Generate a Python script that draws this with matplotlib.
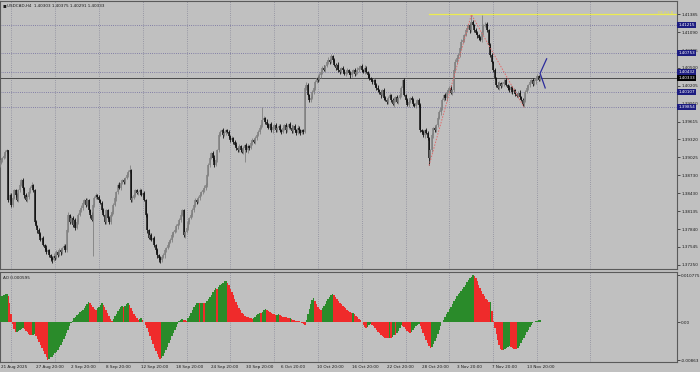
import numpy as np
import matplotlib
matplotlib.use("Agg")
import matplotlib.pyplot as plt
import matplotlib.transforms as mtransforms

plt.rcParams['font.family'] = ['DejaVu Sans']

symbol = "USDCAD,H4"
first_open = 1.3890

# closes of the H4 bars (open = previous close)
closes = [
    1.3893, 1.3898, 1.3901, 1.3905, 1.3911, 1.3914, 1.3832, 1.3840, 1.3824, 1.3835,
    1.3848, 1.3840, 1.3832, 1.3848, 1.3857, 1.3865, 1.3852, 1.3840, 1.3832, 1.3837,
    1.3845, 1.3852, 1.3857, 1.3848, 1.3796, 1.3789, 1.3782, 1.3776, 1.3766, 1.3769,
    1.3758, 1.3753, 1.3746, 1.3749, 1.3741, 1.3736, 1.3733, 1.3740, 1.3736, 1.3746,
    1.3741, 1.3749, 1.3746, 1.3753, 1.3756, 1.3749, 1.3782, 1.3807, 1.3796, 1.3802,
    1.3791, 1.3799, 1.3786, 1.3796, 1.3807, 1.3815, 1.3819, 1.3827, 1.3832, 1.3824,
    1.3832, 1.3815, 1.3807, 1.3799, 1.3824, 1.3835, 1.3840, 1.3837, 1.3832, 1.3827,
    1.3815, 1.3807, 1.3796, 1.3815, 1.3802, 1.3796, 1.3807, 1.3812, 1.3824, 1.3835,
    1.3845, 1.3857, 1.3852, 1.3860, 1.3865, 1.3862, 1.3868, 1.3873, 1.3878, 1.3881,
    1.3832, 1.3835, 1.3840, 1.3848, 1.3844, 1.3845, 1.3848, 1.3840, 1.3844, 1.3832,
    1.3807, 1.3782, 1.3769, 1.3774, 1.3766, 1.3769, 1.3758, 1.3749, 1.3741, 1.3736,
    1.3733, 1.3738, 1.3741, 1.3749, 1.3753, 1.3758, 1.3763, 1.3766, 1.3774, 1.3779,
    1.3782, 1.3789, 1.3792, 1.3799, 1.3807, 1.3815, 1.3774, 1.3779, 1.3786, 1.3796,
    1.3802, 1.3807, 1.3815, 1.3824, 1.3832, 1.3829, 1.3835, 1.3840, 1.3845, 1.3848,
    1.3852, 1.3857, 1.3873, 1.3890, 1.3901, 1.3910, 1.3901, 1.3890, 1.3898, 1.3914,
    1.3939, 1.3944, 1.3947, 1.3939, 1.3943, 1.3947, 1.3944, 1.3938, 1.3931, 1.3934,
    1.3928, 1.3923, 1.3918, 1.3914, 1.3921, 1.3914, 1.3911, 1.3918, 1.3923, 1.3914,
    1.3921, 1.3918, 1.3926, 1.3931, 1.3928, 1.3934, 1.3939, 1.3944, 1.3951, 1.3956,
    1.3964, 1.3967, 1.3961, 1.3956, 1.3951, 1.3957, 1.3947, 1.3952, 1.3956, 1.3947,
    1.3951, 1.3954, 1.3947, 1.3944, 1.3951, 1.3956, 1.3947, 1.3952, 1.3957, 1.3951,
    1.3946, 1.3954, 1.3947, 1.3943, 1.3951, 1.3947, 1.3943, 1.3947, 1.3944, 1.4017,
    1.4022, 1.4005, 1.3997, 1.4000, 1.4010, 1.4017, 1.4027, 1.4033, 1.4030, 1.4038,
    1.4043, 1.4050, 1.4047, 1.4053, 1.4060, 1.4063, 1.4060, 1.4070, 1.4063, 1.4055,
    1.4050, 1.4055, 1.4047, 1.4043, 1.4050, 1.4047, 1.4040, 1.4043, 1.4047, 1.4042,
    1.4038, 1.4043, 1.4047, 1.4040, 1.4043, 1.4047, 1.4050, 1.4053, 1.4047, 1.4043,
    1.4050, 1.4043, 1.4038, 1.4033, 1.4030, 1.4027, 1.4030, 1.4022, 1.4017, 1.4013,
    1.4010, 1.4005, 1.4013, 1.4000, 1.3997, 1.3994, 1.4000, 1.4005, 1.3997, 1.3990,
    1.3997, 1.4002, 1.3994, 1.4000, 1.4005, 1.4017, 1.4030, 1.4005, 1.3997, 1.3989,
    1.3994, 1.4000, 1.3997, 1.3990, 1.3987, 1.3992, 1.3997, 1.3989, 1.3947, 1.3944,
    1.3939, 1.3947, 1.3943, 1.3934, 1.3901, 1.3914, 1.3939, 1.3951, 1.3947, 1.3956,
    1.3967, 1.3977, 1.3984, 1.3997, 1.4005, 1.4000, 1.4010, 1.4013, 1.4017, 1.4009,
    1.4013, 1.4047, 1.4060, 1.4066, 1.4071, 1.4083, 1.4093, 1.4096, 1.4104, 1.4112,
    1.4116, 1.4121, 1.4112, 1.4126, 1.4121, 1.4112, 1.4108, 1.4104, 1.4099, 1.4096,
    1.4109, 1.4119, 1.4121, 1.4122, 1.4112, 1.4088, 1.4071, 1.4060, 1.4047, 1.4033,
    1.4022, 1.4017, 1.4025, 1.4020, 1.4023, 1.4027, 1.4030, 1.4022, 1.4017, 1.4013,
    1.4018, 1.4010, 1.4013, 1.4007, 1.4004, 1.4009, 1.4002, 1.3997, 1.3990, 1.3997,
    1.4010, 1.4017, 1.4022, 1.4027, 1.4030, 1.4023, 1.4028, 1.4033, 1.4037, 1.40303,
    1.40333,
]

# wick lengths in pips above / below the body
upper_wick = [
    2, 3, 2, 4, 3, 2, 1, 3, 4, 2,  3, 2, 4, 3, 5, 2, 3, 2, 3, 4,
    2, 3, 4, 2, 2, 3, 2, 4, 3, 2,  3, 2, 4, 2, 3, 2, 3, 4, 2, 3,
    2, 4, 3, 2, 3, 4, 3, 5, 2, 3,  4, 2, 3, 5, 3, 2, 4, 3, 2, 3,
    4, 2, 3, 5, 2, 3, 4, 2, 3, 2,  3, 4, 2, 3, 2, 4, 3, 2, 3, 4,
    2, 3, 5, 3, 2, 3, 2, 4, 3, 8,  2, 3, 4, 2, 3, 2, 4, 3, 2, 3,
    2, 3, 2, 4, 3, 2, 3, 2, 4, 2,  3, 2, 4, 3, 2, 3, 2, 4, 3, 2,
    3, 4, 2, 3, 5, 2, 3, 2, 4, 3,  2, 3, 4, 2, 3, 2, 4, 3, 2, 3,
    4, 3, 2, 3, 4, 2, 3, 5, 2, 3,  4, 3, 2, 4, 3, 2, 3, 4, 2, 3,
    2, 3, 4, 2, 3, 2, 4, 3, 2, 3,  3, 2, 4, 3, 2, 3, 2, 4, 3, 2,
    21, 3, 2, 4, 3, 2, 4, 3, 2, 3, 2, 3, 4, 2, 3, 2, 3, 4, 2, 3,
    4, 2, 3, 2, 4, 3, 2, 3, 2, 3,  4, 3, 2, 3, 4, 2, 3, 2, 4, 3,
    2, 3, 4, 2, 3, 5, 2, 3, 2, 4,  3, 2, 4, 3, 2, 3, 2, 4, 3, 2,
    3, 4, 2, 3, 2, 4, 3, 2, 3, 2,  4, 3, 2, 3, 2, 4, 3, 2, 3, 4,
    2, 3, 2, 4, 3, 2, 3, 4, 2, 3,  4, 2, 3, 2, 4, 3, 2, 3, 2, 4,
    3, 2, 4, 3, 2, 3, 2, 4, 3, 2,  3, 2, 4, 3, 2, 3, 4, 2, 3, 2,
    4, 3, 2, 3, 2, 4, 3, 2, 3, 4,  2, 3, 4, 2, 3, 2, 4, 3, 2, 3,
    4, 2, 3, 12, 3, 2, 4, 3, 2, 3, 29, 3, 4, 2, 3, 2, 3, 4, 2, 3,
    2, 4, 3, 2, 3, 4, 2, 3, 2, 4,  3, 2, 4, 3, 2, 3, 4, 2, 3, 2,
    3, 4, 2, 3, 2, 4, 3, 2, 3, 2,  4.2,
]
lower_wick = [
    3, 2, 3, 2, 4, 2, 3, 2, 3, 4,  2, 3, 2, 4, 3, 2, 3, 4, 2, 3,
    4, 2, 3, 2, 3, 2, 4, 3, 2, 3,  2, 4, 3, 2, 3, 4, 5, 2, 3, 2,
    3, 2, 4, 3, 2, 3, 2, 3, 4, 2,  3, 2, 4, 2, 3, 2, 3, 4, 2, 3,
    2, 3, 4, 2, 60, 3, 2, 4, 3, 2, 3, 2, 4, 3, 2, 3, 4, 2, 3, 2,
    4, 3, 2, 3, 2, 4, 3, 2, 3, 2,  3, 4, 2, 3, 2, 3, 4, 2, 3, 2,
    3, 4, 2, 3, 2, 4, 3, 5, 4, 6,  5, 3, 2, 4, 3, 2, 3, 2, 4, 3,
    2, 3, 4, 2, 3, 2, 3, 4, 2, 3,  4, 2, 3, 2, 3, 4, 2, 3, 2, 3,
    2, 3, 4, 2, 3, 2, 4, 3, 2, 3,  3, 2, 3, 4, 2, 3, 2, 4, 3, 2,
    3, 2, 4, 3, 2, 3, 2, 3, 23, 2, 4, 3, 2, 3, 2, 4, 3, 2, 3, 2,
    3, 2, 4, 3, 2, 3, 2, 4, 3, 2,  3, 4, 2, 3, 2, 3, 4, 2, 3, 2,
    4, 3, 2, 3, 2, 4, 3, 2, 3, 2,  3, 2, 4, 3, 2, 3, 4, 2, 3, 2,
    4, 3, 2, 3, 2, 4, 3, 2, 3, 2,  3, 2, 4, 3, 2, 3, 2, 4, 3, 2,
    4, 3, 2, 3, 2, 3, 4, 2, 3, 2,  3, 2, 4, 3, 2, 3, 2, 4, 3, 2,
    3, 4, 2, 3, 2, 4, 3, 2, 3, 2,  4, 3, 2, 3, 2, 3, 4, 2, 3, 2,
    3, 2, 4, 3, 2, 3, 2, 4, 3, 2,  3, 4, 2, 3, 12, 3, 2, 4, 3, 2,
    3, 2, 4, 3, 2, 3, 4, 2, 3, 2,  4, 3, 2, 3, 2, 3, 4, 2, 3, 2,
    3, 2, 4, 3, 2, 3, 2, 4, 3, 2,  3, 4, 2, 3, 2, 4, 3, 2, 3, 2,
    3, 2, 4, 3, 2, 3, 4, 2, 3, 2,  4, 3, 2, 3, 2, 3, 4, 2, 3, 5,
    3, 2, 4, 3, 2, 3, 2, 4, 3, 2,  1.2,
]

# Awesome Oscillator, in thousandths
ao_milli = [
    5.7, 5.9, 6.1, 6.3, 6.4, 6.5, 6.0, 4.3, 2.0, -0.3,
    -1.5, -2.3, -2.2, -2.0, -1.8, -1.5, -1.3, -1.5, -1.9, -2.3,
    -2.6, -2.9, -3.0, -2.8, -2.6, -3.1, -3.7, -4.4, -5.1, -5.8,
    -6.5, -7.2, -7.9, -8.63, -8.3, -8.0, -7.8, -7.5, -7.1, -6.7,
    -6.2, -5.7, -5.1, -4.5, -3.9, -3.2, -2.5, -1.7, -0.9, -0.2,
    0.4, 0.9, 1.3, 1.7, 2.0, 2.3, 2.6, 2.9, 3.3, 3.7,
    4.2, 4.6, 4.3, 3.9, 3.5, 3.1, 2.8, 3.2, 3.6, 4.0,
    4.4, 4.0, 3.4, 2.8, 2.1, 1.4, 0.8, 0.4, 0.8, 1.4,
    2.0, 2.6, 3.1, 3.5, 3.7, 3.5, 3.8, 4.1, 4.4, 4.0,
    3.3, 2.6, 2.0, 1.4, 0.9, 0.5, 0.8, 1.0, 0.6, 0.1,
    -0.6, -1.4, -2.3, -3.2, -4.1, -5.0, -5.8, -6.6, -7.3, -7.9,
    -8.4, -8.1, -7.6, -7.0, -6.3, -5.6, -4.8, -4.0, -3.2, -2.4,
    -1.7, -1.0, -0.4, 0.2, 0.5, 0.7, 0.6, 0.5, 0.4, 0.9,
    1.5, 2.1, 2.8, 3.4, 3.9, 4.3, 4.4, 4.3, 4.4, 4.5,
    4.4, 4.5, 4.8, 5.2, 5.7, 6.2, 6.8, 7.3, 7.8, 7.7,
    8.0, 8.4, 8.7, 9.0, 9.3, 9.4, 9.0, 8.4, 7.7, 7.0,
    6.2, 5.4, 4.7, 4.0, 3.3, 2.7, 2.2, 1.8, 1.5, 1.3,
    1.1, 1.0, 0.9, 0.85, 1.0, 1.3, 1.6, 1.9, 2.2, 2.1,
    2.4, 2.7, 3.0, 2.8, 2.6, 2.4, 2.2, 2.0, 1.8, 1.6,
    1.7, 1.8, 1.6, 1.4, 1.3, 1.2, 1.1, 1.0, 0.9, 1.0,
    0.8, 0.6, 0.5, 0.4, 0.3, 0.2, 0.0, -0.2, -0.4, -0.5,
    0.6, 1.8, 3.0, 4.1, 5.0, 5.5, 4.9, 4.2, 3.6, 3.1,
    2.8, 3.2, 3.7, 4.2, 4.8, 5.3, 5.8, 6.2, 6.4, 6.2,
    5.8, 5.3, 4.9, 4.5, 4.1, 3.8, 3.5, 3.2, 2.9, 2.6,
    2.4, 2.1, 2.2, 1.8, 1.4, 1.1, 0.8, 0.5, 0.0, -0.5,
    -1.0, -1.4, -1.0, -0.6, -0.3, -0.5, -0.9, -1.3, -1.7, -2.1,
    -2.5, -2.8, -3.1, -3.3, -3.5, -3.6, -3.65, -3.5, -3.6, -3.3,
    -2.9, -3.0, -2.5, -1.9, -1.3, -0.7, -0.8, -1.1, -1.5, -1.9,
    -2.2, -2.4, -2.1, -1.7, -1.3, -0.9, -0.5, -0.3, -0.8, -1.6,
    -2.4, -3.2, -4.0, -4.7, -5.4, -5.9, -5.6, -5.0, -4.3, -3.5,
    -2.7, -1.8, -0.9, 0.0, 0.6, 1.2, 1.8, 2.4, 3.0, 3.6,
    4.2, 4.8, 5.4, 6.0, 6.4, 6.7, 7.1, 7.6, 8.1, 8.6,
    9.1, 9.6, 10.0, 10.4, 10.775, 10.5, 10.0, 9.3, 8.6, 7.9,
    7.2, 6.5, 5.9, 5.4, 5.0, 4.6, 4.7, 2.5, 0.2, -1.3,
    -2.7, -4.0, -5.2, -6.1, -6.4, -6.2, -6.0, -5.8, -5.6, -5.5,
    -5.7, -5.9, -6.0, -6.1, -6.15, -5.8, -5.3, -4.7, -4.1, -3.5,
    -2.9, -2.3, -1.7, -1.1, -0.5, -0.1, 0.1, 0.25, 0.38, 0.5,
    0.595,
]

time_labels = ["21 Aug 2025", "27 Aug 20:00", "2 Sep 20:00", "8 Sep 20:00", "12 Sep 20:00",
               "18 Sep 20:00", "24 Sep 20:00", "30 Sep 20:00", "6 Oct 20:00", "10 Oct 20:00",
               "16 Oct 20:00", "22 Oct 20:00", "28 Oct 20:00", "3 Nov 20:00", "7 Nov 20:00",
               "13 Nov 20:00"]
time_label_bars = [1, 25, 49, 73, 97, 121, 145, 169, 193, 217, 241, 265, 289, 313, 337, 361]
week_bars = [8, 38, 68, 98, 128, 158, 188, 218, 248, 278, 308, 338, 368, 404]

price_ticks = [1.41385, 1.41090, 1.40795, 1.40500, 1.40205, 1.39910, 1.39615, 1.39320,
               1.39025, 1.38730, 1.38430, 1.38135, 1.37840, 1.37545, 1.37250]
hline_levels = [1.41215, 1.40753, 1.40432, 1.40107, 1.39854]
fe_level = 1.41385
fe_start_bar = 294
zigzag_bars = [294, 323, 359]
fork_x = [374.5, 370, 373.5]
fork_y = [1.4065, 1.4041, 1.4017]
ao_ticks = [0.010775, 0.0, -0.00863]
ao_tick_labels = ["0.010775", "0.00", "-0.00863"]

pip = 0.0001
n = len(closes)
idx = np.arange(n)
c = np.array(closes)
o = np.concatenate([[first_open], c[:-1]])
hi = np.maximum(o, c) + np.array(upper_wick) * pip
lo = np.minimum(o, c) - np.array(lower_wick) * pip
ao = np.array(ao_milli) / 1000.0

bg = '#c0c0c0'
ink = '#1a1a1a'
fs = 3.0
xlim = (0.34, 463.7)

fig = plt.figure(figsize=(7, 3.72), dpi=100, facecolor=bg)
ax = fig.add_axes([0, 0.2769, 0.9671, 0.7204], facecolor=bg)
ax2 = fig.add_axes([0, 0.0269, 0.9671, 0.2419], facecolor=bg)

# weekly grid
for g in week_bars:
    ax.axvline(g, color='#8a8a9a', lw=0.6, ls=(0, (1, 1.6)), zorder=0)
    ax2.axvline(g, color='#8a8a9a', lw=0.6, ls=(0, (1, 1.6)), zorder=0)

# horizontal line objects
for lv in hline_levels:
    ax.axhline(lv, color='#6e6a9e', lw=0.6, ls=(0, (1, 1.6)), zorder=1)
ax.axhline(c[-1], color='#4a4a4a', lw=0.7, zorder=1)

# candles
up = c >= o
col = np.where(up, '#808080', '#101010')
ax.vlines(idx, lo, hi, colors=col, lw=0.6, zorder=3)
ax.vlines(idx, np.minimum(o, c), np.maximum(o, c), colors=col, lw=1.1, zorder=3)

# fibo expansion level and zigzag
ax.plot([fe_start_bar, xlim[1]], [fe_level, fe_level], color='#ecec50', lw=0.9, zorder=2)
ax.text(0.994, fe_level, "FE 61.8", transform=mtransforms.blended_transform_factory(ax.transAxes, ax.transData),
        ha='right', va='baseline', fontsize=fs, color='#e8e84a', zorder=6)
zz_y = [lo[zigzag_bars[0]], hi[zigzag_bars[1]], lo[zigzag_bars[2]]]
ax.plot(zigzag_bars, zz_y, color='#e06a6a', lw=0.7, ls=(0, (1.5, 1.5)), zorder=4)
ax.plot(fork_x, fork_y, color='#2c2c9c', lw=0.9, zorder=4)

ax.set_xlim(*xlim)
ax.set_ylim(1.37182, 1.41604)
ax.set_xticks([])
ax.yaxis.tick_right()
ax.set_yticks(price_ticks)
ax.set_yticklabels([f"{t:.5f}" for t in price_ticks])
ax.tick_params(axis='y', labelsize=fs, length=2, width=0.5, pad=1, colors=ink)

# boxed price labels on the scale
tr = mtransforms.blended_transform_factory(ax.transAxes, ax.transData)
for lv in hline_levels:
    ax.text(1.002, lv, f"{lv:.5f}", transform=tr, ha='left', va='center', fontsize=fs,
            color='white', bbox=dict(boxstyle='square,pad=0.25', fc='#1c1c80', ec='none'),
            clip_on=False, zorder=10)
ax.text(1.002, c[-1], f"{c[-1]:.5f}", transform=tr, ha='left', va='center', fontsize=fs,
        color='white', bbox=dict(boxstyle='square,pad=0.25', fc='#000000', ec='none'),
        clip_on=False, zorder=11)

ax.text(0.004, 0.982, "\u25aa", transform=ax.transAxes, fontsize=4, color=ink, va='center')
ax.text(0.011, 0.982, f"{symbol}  {o[-1]:.5f} {hi[-1]:.5f} {lo[-1]:.5f} {c[-1]:.5f}",
        transform=ax.transAxes, fontsize=fs, color=ink, va='center')

# AO histogram
ao_col = ['#2a8b2a' if i > 0 and ao[i] > ao[i - 1] else '#ef2b2b' for i in range(n)]
ao_col[0] = '#2a8b2a'
ax2.bar(idx, ao, width=1.0, color=ao_col, linewidth=0, zorder=3)
ax2.set_xlim(*xlim)
ax2.set_ylim(-0.00904, 0.01146)
ax2.yaxis.tick_right()
ax2.set_yticks(ao_ticks)
ax2.set_yticklabels(ao_tick_labels)
ax2.tick_params(axis='y', labelsize=fs, length=2, width=0.5, pad=1, colors=ink)
ax2.set_xticks(time_label_bars)
ax2.set_xticklabels(time_labels, ha='left')
ax2.tick_params(axis='x', labelsize=fs, length=0, pad=2, colors=ink)
ax2.text(0.004, 0.93, f"AO {ao[-1]:.6f}", transform=ax2.transAxes, fontsize=fs, color=ink, va='center')

for a in (ax, ax2):
    for s in a.spines.values():
        s.set_color('#5a5a5a')
        s.set_linewidth(0.8)

fig.savefig('out.png', dpi=100, facecolor=bg)
